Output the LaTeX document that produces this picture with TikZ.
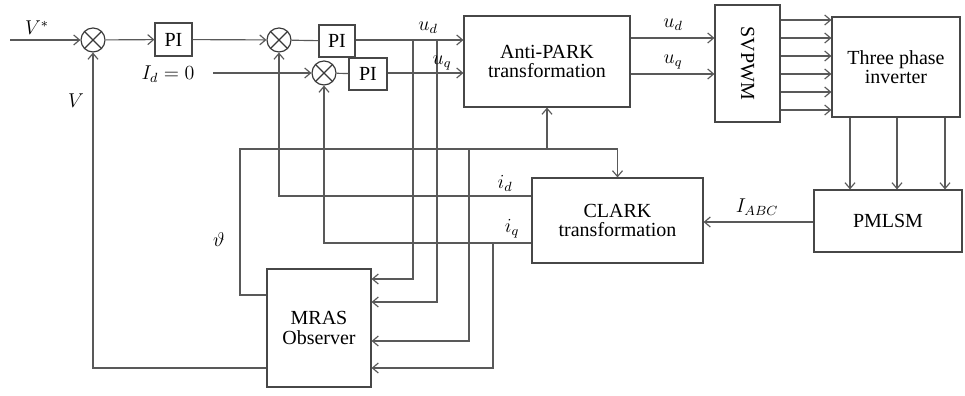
\documentclass[tikz,border=0pt]{standalone}
\usepackage{fontspec}
\setmainfont{Liberation Serif}
\usepackage{tikz}
\usetikzlibrary{calc,arrows.meta}
\def\pxu{0.6pt}

\begin{document}
\begin{tikzpicture}[x=0.6pt, y=-0.6pt,
	line width=0.7pt,
	wire/.style={draw=black!65},
	arr/.style={wire, -{Straight Barb[length=3.5pt, width=6pt]}},
	blk/.style={draw=black!72, fill=white, inner sep=0pt, align=center,
		font=\fontsize{12}{11.5}\selectfont},
	sumnode/.style={draw=black!78, circle, minimum size=24*\pxu, inner sep=0pt,
		path picture={\draw[black!78] (path picture bounding box.north west) -- (path picture bounding box.south east)
			(path picture bounding box.south west) -- (path picture bounding box.north east);}},
	lbl/.style={font=\fontsize{12}{12}\selectfont}]
		%%%%% START %%%%%
		
		\useasboundingbox (0, 0) rectangle (965, 396);
		
		% sums and PI blocks
		\node[sumnode] (s1) at (93, 40) {};
		\node[sumnode] (s2) at (279, 40) {};
		\node[sumnode] (s3) at (324, 73) {};
		\node[blk, minimum width=37*\pxu, minimum height=33*\pxu] (pi1) at (173.5, 39.5) {PI};
		\node[blk, minimum width=36*\pxu, minimum height=32*\pxu] (pi2) at (337, 41) {PI};
		\node[blk, minimum width=38*\pxu, minimum height=32*\pxu] (pi3) at (368, 74) {PI};
		
		% big blocks
		\node[blk, minimum width=166*\pxu, minimum height=91*\pxu] (ap) at (547, 61.5) {Anti-PARK\\transformation};
		\node[blk, minimum width=65*\pxu, minimum height=117*\pxu] (sv) at (747.5, 63.5) {};
		\node[rotate=-90, lbl] at (sv) {SVPWM};
		\node[blk, minimum width=128*\pxu, minimum height=100*\pxu] (inv) at (896, 67) {Three phase\\inverter};
		\node[blk, minimum width=148*\pxu, minimum height=62*\pxu] (pm) at (888, 221) {PMLSM};
		\node[blk, minimum width=171*\pxu, minimum height=85*\pxu] (cl) at (617.5, 220.5) {CLARK\\transformation};
		\node[blk, minimum width=104*\pxu, minimum height=118*\pxu] (mr) at (319, 328) {MRAS\\Observer};
		
		% free ends and corners
		\coordinate (vin) at (10, 40);
		\coordinate (idin) at (213, 73);
		\coordinate (th) at (240, 149);
		
		% speed and current loops
		\draw[arr] (vin) -- (s1);
		\draw[arr] (s1) -- (pi1);
		\draw[arr] (pi1) -- (s2);
		\draw[wire] (s2) -- (pi2);
		\draw[arr] (pi2.east |- s2) -- (ap.west |- s2);
		\draw[arr] (idin) -- (s3);
		\draw[wire] (s3) -- (pi3);
		\draw[arr] (pi3.east |- s3) -- (ap.west |- s3);
		
		% to the inverter and the motor
		\draw[arr] (ap.east |- 0, 38) -- (sv.west |- 0, 38);
		\draw[arr] (ap.east |- 0, 74) -- (sv.west |- 0, 74);
		\foreach \yy in {20, 38, 56, 74, 92, 110}
			\draw[arr] (sv.east |- 0, \yy) -- (inv.west |- 0, \yy);
		\foreach \xx in {850, 897, 945}
			\draw[arr] (inv.south -| \xx, 0) -- (pm.north -| \xx, 0);
		\draw[arr] (pm.west |- 0, 222) -- (cl.east |- 0, 222);
		
		% feedback
		\draw[arr] (cl.west |- 0, 196) -| (s2);
		\draw[arr] (cl.west |- 0, 243) -| (s3);
		\draw[arr] (mr.west |- 0, 368) -| (s1);
		\draw[arr] (mr.west |- 0, 295) -| (th) -| (cl);
		\draw[arr] (547, 149) -- (ap);
		
		% inputs of the observer
		\draw[arr] (413, 40) |- (mr.east |- 0, 279);
		\draw[arr] (437, 40) |- (mr.east |- 0, 302);
		\draw[arr] (469, 149) |- (mr.east |- 0, 341);
		\draw[arr] (493, 243) |- (mr.east |- 0, 368);
		
		% labels
		\node[lbl] at (37, 28) {$V^{*}$};
		\node[lbl] at (76, 101) {$V$};
		\node[lbl] at (168, 74) {$I_d=0$};
		\node[lbl] at (428, 28) {$u_d$};
		\node[lbl] at (442, 63) {$u_q$};
		\node[lbl] at (673, 25) {$u_d$};
		\node[lbl] at (673, 62) {$u_q$};
		\node[lbl] at (505, 183) {$i_d$};
		\node[lbl] at (512, 229) {$i_q$};
		\node[lbl] at (757, 207) {$I_{ABC}$};
		\node[lbl] at (219, 240) {$\vartheta$};
		
		%%%%% END %%%%%
\end{tikzpicture}
\end{document}
